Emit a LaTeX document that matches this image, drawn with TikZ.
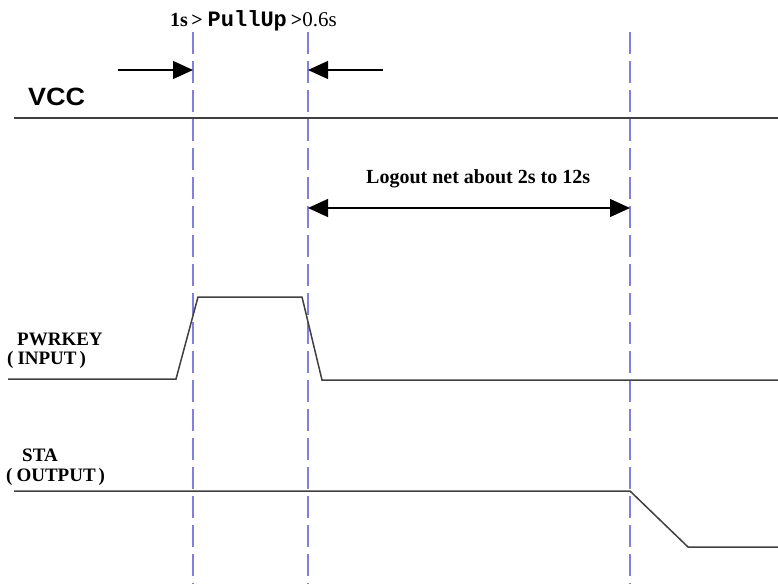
\documentclass[tikz,border=0pt]{standalone}
\usepackage{fontspec}
\setmainfont{Liberation Serif}
\newfontfamily\arialf{Liberation Sans}
\newfontfamily\courf{Liberation Mono}
\usetikzlibrary{arrows.meta}
\definecolor{sig}{HTML}{404040}
\definecolor{dashc}{HTML}{8080E0}
\newcommand{\lpar}{(\hspace{4pt}}
\newcommand{\rpar}{\hspace{3pt})}
\begin{document}
\begin{tikzpicture}[x=1pt,y=-1pt,
  sigline/.style={draw=sig,line width=1.5pt},
  guide/.style={draw=dashc,line width=1.5pt,dash pattern=on 22pt off 7pt},
  dimarrow/.style={draw=black,line width=1.2pt,-{Triangle[length=20pt,width=18pt]}},
  dimboth/.style={draw=black,line width=1.2pt,{Triangle[length=20pt,width=18pt]}-{Triangle[length=20pt,width=18pt]}},
  lbl/.style={font=\fontsize{19}{20}\selectfont\bfseries,inner sep=0pt,align=left}]
\useasboundingbox[fill=white] (0,0) rectangle (778,584);
% guide lines
\coordinate (g1t) at (193,32); \coordinate (g1b) at (193,584);
\coordinate (g2t) at (308,32); \coordinate (g2b) at (308,584);
\coordinate (g3t) at (630,32); \coordinate (g3b) at (630,584);
\draw[guide] (g1t) -- (g1b);
\draw[guide] (g2t) -- (g2b);
\draw[guide] (g3t) -- (g3b);
% title
\node[inner sep=0pt,anchor=base west] (title) at (170,26) {\fontsize{20}{21}\selectfont\bfseries 1s\,>\hspace{5pt}{\courf\fontsize{22}{22}\selectfont PullUp}\hspace{4pt}>\mdseries\fontsize{21}{22}\selectfont 0.6s};
% pull-up arrows
\coordinate (a1s) at (118,70); \coordinate (a1e) at (193,70);
\coordinate (a2s) at (383,70); \coordinate (a2e) at (308,70);
\draw[dimarrow] (a1s) -- (a1e);
\draw[dimarrow] (a2s) -- (a2e);
% VCC
\node[inner sep=0pt,anchor=base west] (vcc) at (28,105) {\scalebox{1.08}[1]{\arialf\fontsize{25}{26}\selectfont\bfseries VCC}};
\coordinate (v0) at (14,118); \coordinate (v1) at (778,118);
\draw[sigline] (v0) -- (v1);
% logout
\node[lbl,anchor=base west,font=\fontsize{20}{21}\selectfont\bfseries] (logout) at (366,183) {Logout net about 2s to 12s};
\coordinate (l0) at (308,208); \coordinate (l1) at (630,208);
\draw[dimboth] (l0) -- (l1);
% PWRKEY
\node[lbl,anchor=base west] (pk1) at (17,345) {PWRKEY};
\node[lbl,anchor=base west] (pk2) at (7,364) {\lpar INPUT\rpar};
\coordinate (p0) at (8,379); \coordinate (p1) at (176,379);
\coordinate (p2) at (198,297); \coordinate (p3) at (302,297);
\coordinate (p4) at (322,380); \coordinate (p5) at (778,380);
\draw[sigline] (p0) -- (p1) -- (p2) -- (p3) -- (p4) -- (p5);
% STA
\node[lbl,anchor=base west] (st1) at (22,461) {STA};
\node[lbl,anchor=base west] (st2) at (6,481) {\lpar OUTPUT\rpar};
\coordinate (s0) at (14,491); \coordinate (s1) at (630,491);
\coordinate (s2) at (688,547); \coordinate (s3) at (778,547);
\draw[sigline] (s0) -- (s1) -- (s2) -- (s3);
\end{tikzpicture}
\end{document}
